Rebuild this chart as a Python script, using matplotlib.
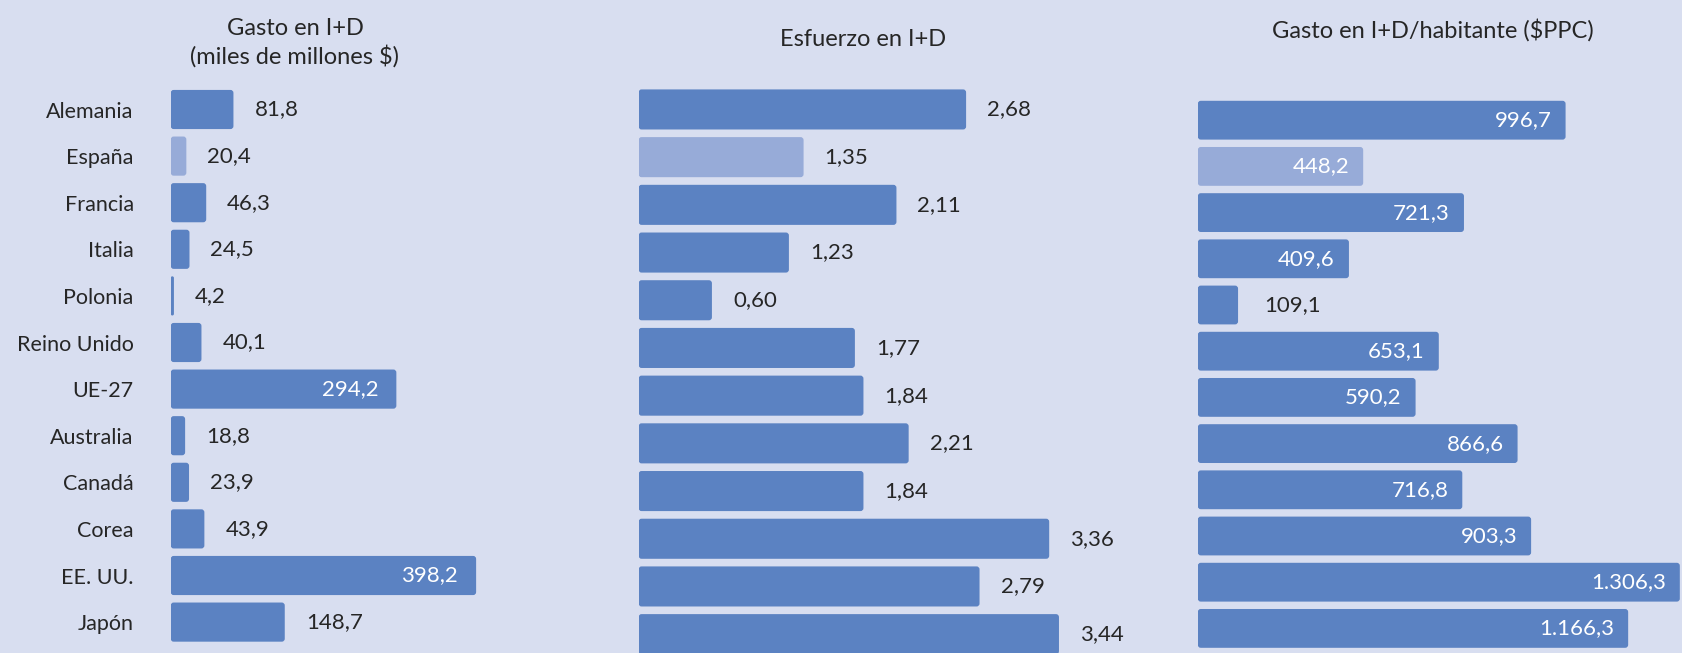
"""Gasto y esfuerzo en I+D: tres paneles de barras horizontales."""

import matplotlib as mpl
import matplotlib.pyplot as plt
from matplotlib.patches import FancyBboxPatch

W, H, DPI = 1683, 653, 100

BG = "#d8def0"
BAR = "#5b82c2"
BAR_ES = "#97abd8"
INK = "#262626"

# --- data -----------------------------------------------------------------
paises = [
    "Alemania", "España", "Francia", "Italia", "Polonia", "Reino Unido",
    "UE-27", "Australia", "Canadá", "Corea", "EE. UU.", "Japón",
]
gasto = [81.8, 20.4, 46.3, 24.5, 4.2, 40.1, 294.2, 18.8, 23.9, 43.9, 398.2, 148.7]
esfuerzo = [2.68, 1.35, 2.11, 1.23, 0.60, 1.77, 1.84, 2.21, 1.84, 3.36, 2.79, 3.44]
gasto_hab = [996.7, 448.2, 721.3, 409.6, 109.1, 653.1, 590.2, 866.6, 716.8, 903.3, 1306.3, 1166.3]

titulos = [
    "Gasto en I+D\n(miles de millones $)",
    "Esfuerzo en I+D",
    "Gasto en I+D/habitante ($PPC)",
]

PT = 72 / DPI  # px -> pt


def fmt(v, dec):
    s = f"{v:,.{dec}f}"
    return s.replace(",", "X").replace(".", ",").replace("X", ".")


def px_axes(fig, left, top, width, height):
    return fig.add_axes([left / W, 1 - (top + height) / H, width / W, height / H])


def panel(ax, box_px, values, dec, px_per_unit, inside_from=None, inside_pad=15, out_pad=20):
    n = len(values)
    w_px, h_px = box_px
    xmax = w_px / px_per_unit
    x_per_px = 1 / px_per_unit
    y_per_px = n / h_px
    colors = [BAR_ES if p == "España" else BAR for p in paises]
    bars = ax.barh(range(n), values, height=0.84, color=colors, edgecolor="none")
    # swap the square bars for slightly rounded ones
    for rect in bars:
        x, y = rect.get_x(), rect.get_y()
        bw, bh = rect.get_width(), rect.get_height()
        r_px = min(3.0, bw * px_per_unit / 2)
        ax.add_patch(FancyBboxPatch(
            (x, y), bw, bh,
            boxstyle=f"round,pad=0,rounding_size={r_px * x_per_px}",
            mutation_aspect=y_per_px / x_per_px,
            facecolor=rect.get_facecolor(), edgecolor="none", zorder=2,
        ))
        rect.set_visible(False)
    ax.set_xlim(0, xmax)
    ax.set_ylim(n - 0.5, -0.5)
    ax.set_facecolor("none")
    for s in ax.spines.values():
        s.set_visible(False)
    ax.set_xticks([])
    ax.set_yticks([])
    for i, v in enumerate(values):
        if inside_from is not None and v >= inside_from:
            ax.annotate(fmt(v, dec), (v, i), xytext=(-inside_pad * PT, 0),
                        textcoords="offset points", ha="right", va="center",
                        color="white", fontsize=16, annotation_clip=False, zorder=3)
        else:
            ax.annotate(fmt(v, dec), (v, i), xytext=(out_pad * PT, 0),
                        textcoords="offset points", ha="left", va="center",
                        color=INK, fontsize=16, annotation_clip=False, zorder=3)


mpl.rcParams["font.family"] = ["Lato", "DejaVu Sans"]

fig = plt.figure(figsize=(W / DPI, H / DPI), dpi=DPI, facecolor=BG)

# panel 1: gasto total
box1 = (429, 12 * 46.6)
ax1 = px_axes(fig, 170.7, 86.2, *box1)
panel(ax1, box1, gasto, 1, 0.767, inside_from=200, inside_pad=18, out_pad=21)
ax1.set_yticks(range(len(paises)))
ax1.set_yticklabels(paises, fontsize=15.5, color=INK)
ax1.tick_params(axis="y", length=0, pad=37 * PT)

# panel 2: esfuerzo (% PIB)
box2 = (511, 12 * 47.7)
ax2 = px_axes(fig, 638.6, 85.6, *box2)
panel(ax2, box2, esfuerzo, 2, 122.2, out_pad=21)

# panel 3: gasto por habitante
box3 = (485.2, 12 * 46.2)
ax3 = px_axes(fig, 1197.8, 97.1, *box3)
panel(ax3, box3, gasto_hab, 1, 0.369, inside_from=200, inside_pad=14, out_pad=26)

fig.text(295 / W, 1 - 43 / H, titulos[0], ha="center", va="center",
         fontsize=17, color=INK, linespacing=1.3)
fig.text(863 / W, 1 - 40 / H, titulos[1], ha="center", va="center",
         fontsize=17, color=INK)
fig.text(1433 / W, 1 - 30 / H, titulos[2], ha="center", va="center",
         fontsize=17, color=INK)

fig.savefig("out.png", dpi=DPI, facecolor=BG)
